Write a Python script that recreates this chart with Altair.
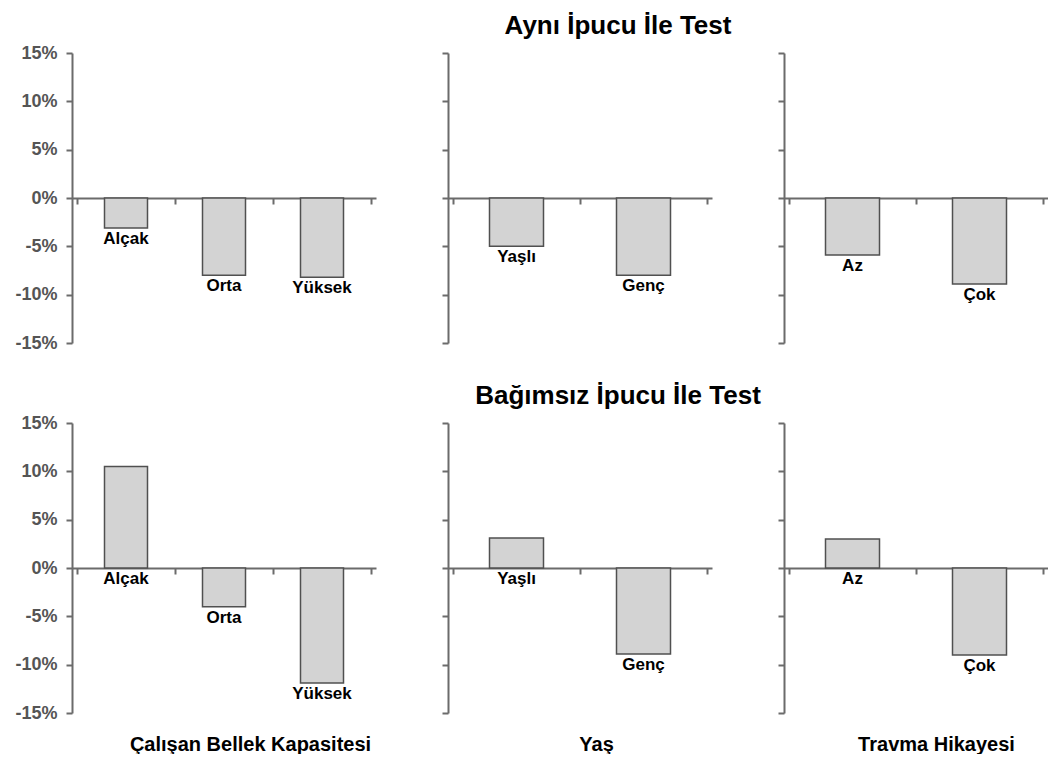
import altair as alt
import pandas as pd

FONT = "Liberation Sans"

row_titles = ["Aynı İpucu İle Test", "Bağımsız İpucu İle Test"]
group_titles = ["Çalışan Bellek Kapasitesi", "Yaş", "Travma Hikayesi"]

wm_cats = ["Alçak", "Orta", "Yüksek"]
wm_same = [-3.1, -8.0, -8.2]
wm_indep = [10.5, -4.0, -11.9]

age_cats = ["Yaşlı", "Genç"]
age_same = [-5.0, -8.0]
age_indep = [3.1, -8.9]

trauma_cats = ["Az", "Çok"]
trauma_same = [-5.9, -8.9]
trauma_indep = [3.0, -9.0]

y_ticks = [-15, -10, -5, 0, 5, 10, 15]

H = 290
AX = "#6b6b6b"


def panel(cats, vals, width, bar_w, first, bottom_title=None, title_x=0,
          top_title=None, top_dx=0):
    n = len(cats)
    df = pd.DataFrame({"cat": cats, "val": vals, "pos": [i + 0.5 for i in range(n)]})
    xs = alt.Scale(domain=[0, n], nice=False, zero=False)
    ys = alt.Scale(domain=[-15, 15], nice=False)
    xkw = dict(values=list(range(n + 1)), labels=False, offset=-H / 2,
               tickSize=6, grid=False)
    if bottom_title:
        xkw.update(title=bottom_title, titleX=title_x, titleY=H / 2 + 31,
                   titleBaseline="middle", titleAlign="center", titleFont=FONT,
                   titleFontSize=20, titleFontWeight="bold", titleColor="black")
    else:
        xkw.update(title=None)
    xaxis = alt.Axis(**xkw)
    yaxis = alt.Axis(values=y_ticks, labels=first, labelExpr="datum.value + '%'",
                     title=None, tickSize=6, grid=False, labelPadding=9,
                     labelFont=FONT, labelFontSize=18, labelFontWeight="bold",
                     labelColor="#555555")
    base = alt.Chart(df)
    bars = base.mark_bar(width=bar_w, fill="#d3d3d3", stroke="#505050",
                         strokeWidth=1.5).encode(
        x=alt.X("pos:Q", scale=xs, axis=xaxis),
        y=alt.Y("val:Q", scale=ys, axis=yaxis),
    )
    text = base.transform_calculate(ly="min(datum.val, 0)").mark_text(
        baseline="top", dy=3, font=FONT, fontWeight="bold", fontSize=17, color="black"
    ).encode(
        x=alt.X("pos:Q", scale=xs, axis=xaxis),
        y=alt.Y("ly:Q", scale=ys, axis=yaxis),
        text="cat:N",
    )
    ch = alt.layer(bars, text).properties(width=width, height=H)
    if top_title:
        ch = ch.properties(title=alt.TitleParams(
            top_title, anchor="middle", dx=top_dx, offset=13, font=FONT,
            fontSize=26, fontWeight="bold", color="black"))
    return ch


panels = [
    panel(wm_cats, wm_same, 304, 43, True),
    panel(age_cats, age_same, 264, 54, False, top_title=row_titles[0], top_dx=38),
    panel(trauma_cats, trauma_same, 264, 54, False),
    panel(wm_cats, wm_indep, 304, 43, True, group_titles[0], 178),
    panel(age_cats, age_indep, 264, 54, False, group_titles[1], 148,
          top_title=row_titles[1], top_dx=38),
    panel(trauma_cats, trauma_indep, 264, 54, False, group_titles[2], 152),
]

chart = alt.concat(*panels, columns=3, spacing={"row": 80, "column": 72},
                   bounds="flush").properties(
    padding={"left": 6, "top": 5, "right": 0, "bottom": 0}
).configure_view(stroke=None).configure_axis(
    domainColor=AX, domainWidth=2, tickColor=AX, tickWidth=2
)

chart.save("out.html", embed_options={"renderer": "svg", "actions": False})
